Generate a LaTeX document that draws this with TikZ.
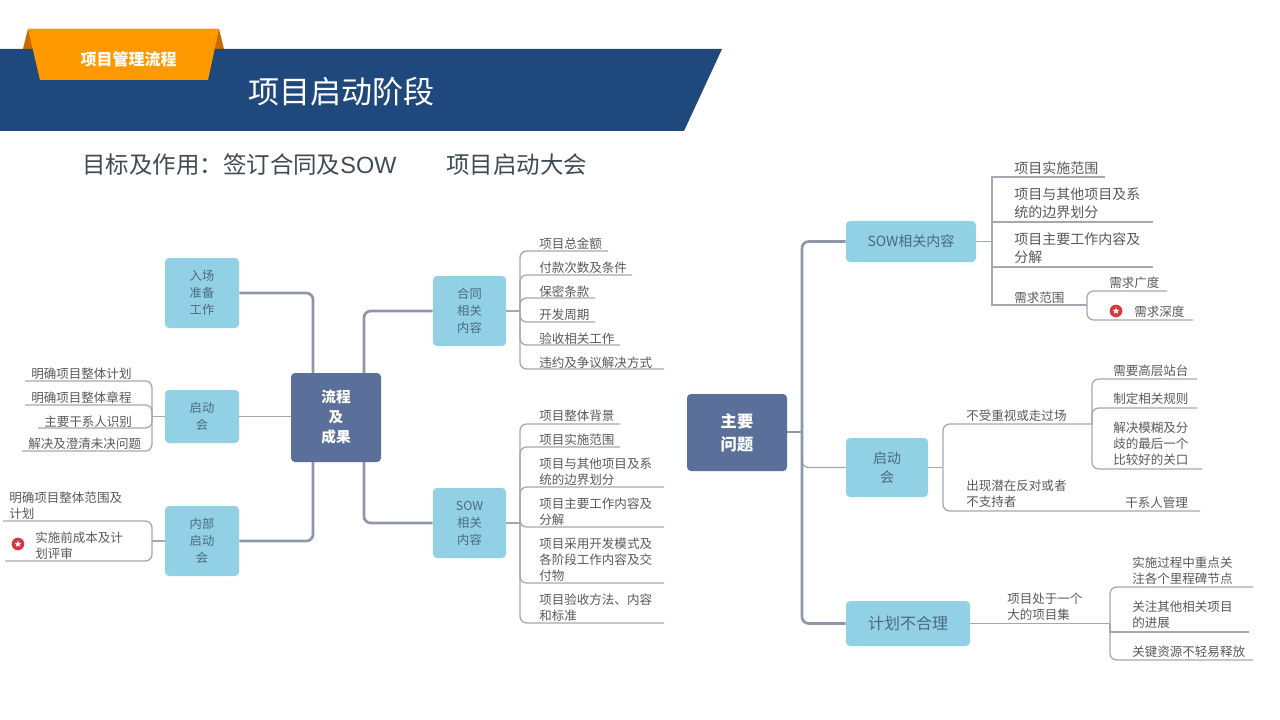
\documentclass[tikz,border=0pt]{standalone}
\usepackage{fontspec}
\setmainfont{Noto Sans CJK SC}
\newfontfamily\latinf{Liberation Sans}
\usetikzlibrary{shapes.geometric}
\definecolor{navy}{HTML}{1F487C}
\definecolor{orangeb}{HTML}{FF9900}
\definecolor{orangec}{HTML}{C96A00}
\definecolor{lblue}{HTML}{92D0E6}
\definecolor{dblue}{HTML}{5A6F99}
\definecolor{lnthick}{HTML}{8D97A8}
\definecolor{lnthin}{HTML}{A3A8B2}
\definecolor{txt}{HTML}{595959}
\definecolor{boxtxt}{HTML}{4A6A80}
\definecolor{subt}{HTML}{404A52}
\definecolor{staricon}{HTML}{D8383F}
\tikzset{
  lf/.style={anchor=west,inner sep=0pt,align=left,text=txt,yshift=-0.6pt,font=\fontsize{9.4}{12}\selectfont},
  lg/.style={anchor=west,inner sep=0pt,align=left,text=txt,yshift=-0.6pt,font=\fontsize{10.5}{13.4}\selectfont},
  sb/.style={fill=lblue,rounded corners=3pt,inner sep=0pt,align=center,text=boxtxt},
  mb/.style={fill=dblue,rounded corners=3pt,inner sep=0pt,align=center,text=white},
  thick line/.style={draw=lnthick,line width=2pt,rounded corners=5pt},
  thin line/.style={draw=lnthin,line width=1pt,rounded corners=5pt},
  sharp line/.style={draw=lnthin,line width=1pt},
  icon/.style={circle,fill=staricon,minimum size=9.5pt,inner sep=0pt},
  iconstar/.style={star,star points=5,star point ratio=2.2,fill=white,minimum size=5pt,inner sep=0pt},
  smallbox/.style={sb,font=\fontsize{9.2}{12.8}\selectfont},
  m1box/.style={mb,font=\fontsize{11}{15}\selectfont\bfseries},
  m2box/.style={mb,font=\fontsize{12.2}{17}\selectfont\bfseries},
}
% name, x0, y0, x1, y1, style, text
\newcommand{\bx}[7]{\node[#6,minimum width={(#4-#2)*0.75pt},minimum height={(#5-#3)*0.75pt}] (#1) at ({(#2+#4)/2},{(#3+#5)/2}) {#7};}
\begin{document}
\begin{tikzpicture}[x=0.75pt,y=-0.75pt]
\useasboundingbox (0,0) rectangle (1280,720);
\fill[white] (0,0) rectangle (1280,720);
% header
\fill[orangec] (23,49) -- (28,29) -- (219,29) -- (224,49) -- cycle;
\fill[navy] (0,49) -- (722,49) -- (684,131) -- (0,131) -- cycle;
\fill[orangeb] (28,29) -- (219,29) -- (208,80) -- (40,80) -- cycle;
\node[text=white,inner sep=0pt,font=\fontsize{12}{14}\selectfont\bfseries] (badge) at (128.5,59) {项目管理流程};
\node[text=white,inner sep=0pt,anchor=west,font=\fontsize{23.3}{28}\selectfont] (title) at (248,92) {项目启动阶段};
\node[text=subt,inner sep=0pt,anchor=west,font=\fontsize{17.6}{21}\selectfont] (goal) at (82,165) {目标及作用：签订合同及{\latinf SOW}};
\node[text=subt,inner sep=0pt,anchor=west,font=\fontsize{17.6}{21}\selectfont] (kick) at (446,165) {项目启动大会};

% left map boxes
\bx{c1}{291}{373}{381}{462}{m1box}{流程\\及\\成果}
\bx{a1}{165}{258}{239}{328}{smallbox}{入场\\准备\\工作}
\bx{a2}{165}{390}{239}{443}{smallbox}{启动\\会}
\bx{a3}{165}{506}{239}{576}{smallbox}{内部\\启动\\会}
\bx{b1}{433}{276}{506}{346}{smallbox}{合同\\相关\\内容}
\bx{b2}{433}{488}{506}{558}{smallbox}{SOW\\相关\\内容}
\draw[thick line] (313,373) |- (a1.east |- 0,293);
\draw[thick line] (313,462) |- (a3.east |- 0,541);
\draw[thick line] (364,373) |- (b1.west);
\draw[thick line] (364,462) |- (b2.west);
\draw[thin line] (a2.east) -- (c1.west |- a2.east);

% start meeting leaves
\coordinate (ha2) at (a2.west -| 152,0);
\draw[thin line] (a2.west) -- (ha2);
\foreach \n/\xa/\ya in {1/25/381,2/25/405,3/38/428,4/22/451}{
  \coordinate (ea\n) at (\xa,\ya);
  \draw[thin line] (ha2) |- (ea\n);
}
\node[lf] (l1) at (31,373) {明确项目整体计划};
\node[lf] (l2) at (31,397) {明确项目整体章程};
\node[lf] (l3) at (44,421) {主要干系人识别};
\node[lf] (l4) at (28,443) {解决及澄清未决问题};
% internal meeting leaves
\coordinate (ha3) at (a3.west -| 152,0);
\draw[thin line] (a3.west) -- (ha3);
\coordinate (eb1) at (3,521);
\coordinate (eb2) at (5,561);
\draw[thin line] (ha3) |- (eb1);
\draw[thin line] (ha3) |- (eb2);
\node[lf] (l5) at (9,505) {明确项目整体范围及\\计划};
\node[lf] (l6) at (35,545) {实施前成本及计\\划评审};
\node[icon] (i1) at (18,544) {};
\node[iconstar] (s1) at (18,544) {};

% contract leaves
\coordinate (hb1) at (b1.east -| 520,0);
\draw[thin line] (b1.east) -- (hb1);
\foreach \n/\xa/\ya in {1/608/251,2/632/275,3/595/298,4/595/322,5/620/345,6/664/369}{
  \coordinate (ec\n) at (\xa,\ya);
  \draw[thin line] (hb1) |- (ec\n);
}
\node[lf] (m1) at (539,243) {项目总金额};
\node[lf] (m2) at (539,267) {付款次数及条件};
\node[lf] (m3) at (539,291) {保密条款};
\node[lf] (m4) at (539,314) {开发周期};
\node[lf] (m5) at (539,338) {验收相关工作};
\node[lf] (m6) at (539,362) {违约及争议解决方式};
% SOW leaves
\coordinate (hb2) at (b2.east -| 520,0);
\draw[thin line] (b2.east) -- (hb2);
\foreach \n/\xa/\ya in {1/620/424,2/620/447,3/664/487,4/664/527,5/664/583,6/664/623}{
  \coordinate (ed\n) at (\xa,\ya);
  \draw[thin line] (hb2) |- (ed\n);
}
\node[lf] (n1) at (539,415) {项目整体背景};
\node[lf] (n2) at (539,439) {项目实施范围};
\node[lf] (n3) at (539,471) {项目与其他项目及系\\统的边界划分};
\node[lf] (n4) at (539,511) {项目主要工作内容及\\分解};
\node[lf] (n5) at (539,559) {项目采用开发模式及\\各阶段工作内容及交\\付物};
\node[lf] (n6) at (539,607) {项目验收方法、内容\\和标准};

% right map
\bx{c2}{687}{394}{787}{471}{m2box}{主要\\问题}
\bx{r1}{846}{221}{976}{262}{sb,font=\fontsize{10.5}{13}\selectfont}{SOW相关内容}
\bx{r2}{846}{438}{928}{497}{sb,font=\fontsize{10.5}{14}\selectfont}{启动\\会}
\bx{r3}{846}{601}{970}{646}{sb,font=\fontsize{12}{14}\selectfont}{计划不合理}
\coordinate (sp) at (802,432);
\draw[thick line] (c2.east |- sp) -- (sp);
\draw[thick line] (sp) |- (r1.west);
\draw[thick line] (sp) |- (r3.west);
\draw[thin line] (sp) |- (r2.west);
\draw[thick line] (sp) -- (802,470);

% SOW content (square)
\coordinate (hr1) at (r1.east -| 992,0);
\draw[sharp line] (r1.east) -- (hr1);
\foreach \n/\xa/\ya in {1/1105/177,2/1153/222,3/1153/267,4/1087/305}{
  \coordinate (ef\n) at (\xa,\ya);
  \draw[sharp line] (hr1) |- (ef\n);
}
\node[lg] (p1) at (1014,167) {项目实施范围};
\node[lg] (p2) at (1014,202) {项目与其他项目及系\\统的边界划分};
\node[lg] (p3) at (1014,247) {项目主要工作内容及\\分解};
\node[lf] (p4) at (1014,297) {需求范围};
\coordinate (hr4) at (ef4);
\coordinate (eg1) at (1167,291);
\coordinate (eg2) at (1193,320);
\draw[thin line] (hr4) |- (eg1);
\draw[thin line] (hr4) |- (eg2);
\node[lf] (p5) at (1109,282) {需求广度};
\node[lf] (p6) at (1134,311) {需求深度};
\node[icon] (i2) at (1116,311) {};
\node[iconstar] (s2) at (1116,311) {};

% kick-off meeting issues
\coordinate (hr2) at (r2.east -| 943,0);
\draw[thin line] (r2.east) -- (hr2);
\coordinate (eh1) at (1092,424);
\coordinate (eh2) at (1200,511);
\draw[thin line] (hr2) |- (eh1);
\draw[thin line] (hr2) |- (eh2);
\node[lf] (q1) at (966,415) {不受重视或走过场};
\node[lf] (q2) at (966,493) {出现潜在反对或者\\不支持者};
\node[lf] (q3) at (1125,502) {干系人管理};
\coordinate (ei1) at (1197,379);
\coordinate (ei2) at (1197,408);
\coordinate (ei3) at (1202,469);
\draw[thin line] (eh1) |- (ei1);
\draw[thin line] (eh1) |- (ei2);
\draw[thin line] (eh1) |- (ei3);
\node[lf] (q4) at (1113,370) {需要高层站台};
\node[lf] (q5) at (1113,398) {制定相关规则};
\node[lf] (q6) at (1113,443) {解决模糊及分\\歧的最后一个\\比较好的关口};

% plan issues
\coordinate (hr3) at (r3.east -| 1110,0);
\draw[thin line] (r3.east) -- (hr3);
\node[lf] (u1) at (1007,605.5) {项目处于一个\\大的项目集};
\coordinate (ej1) at (1253,587);
\coordinate (ej2) at (1249,632);
\coordinate (ej3) at (1253,660);
\draw[thin line] (hr3) |- (ej1);
\draw[sharp line] (hr3) |- (ej2);
\draw[thin line] (hr3) |- (ej3);
\node[lf] (u2) at (1132,570) {实施过程中重点关\\注各个里程碑节点};
\node[lf] (u3) at (1132,614) {关注其他相关项目\\的进展};
\node[lf] (u4) at (1132,651) {关键资源不轻易释放};
\end{tikzpicture}
\end{document}
